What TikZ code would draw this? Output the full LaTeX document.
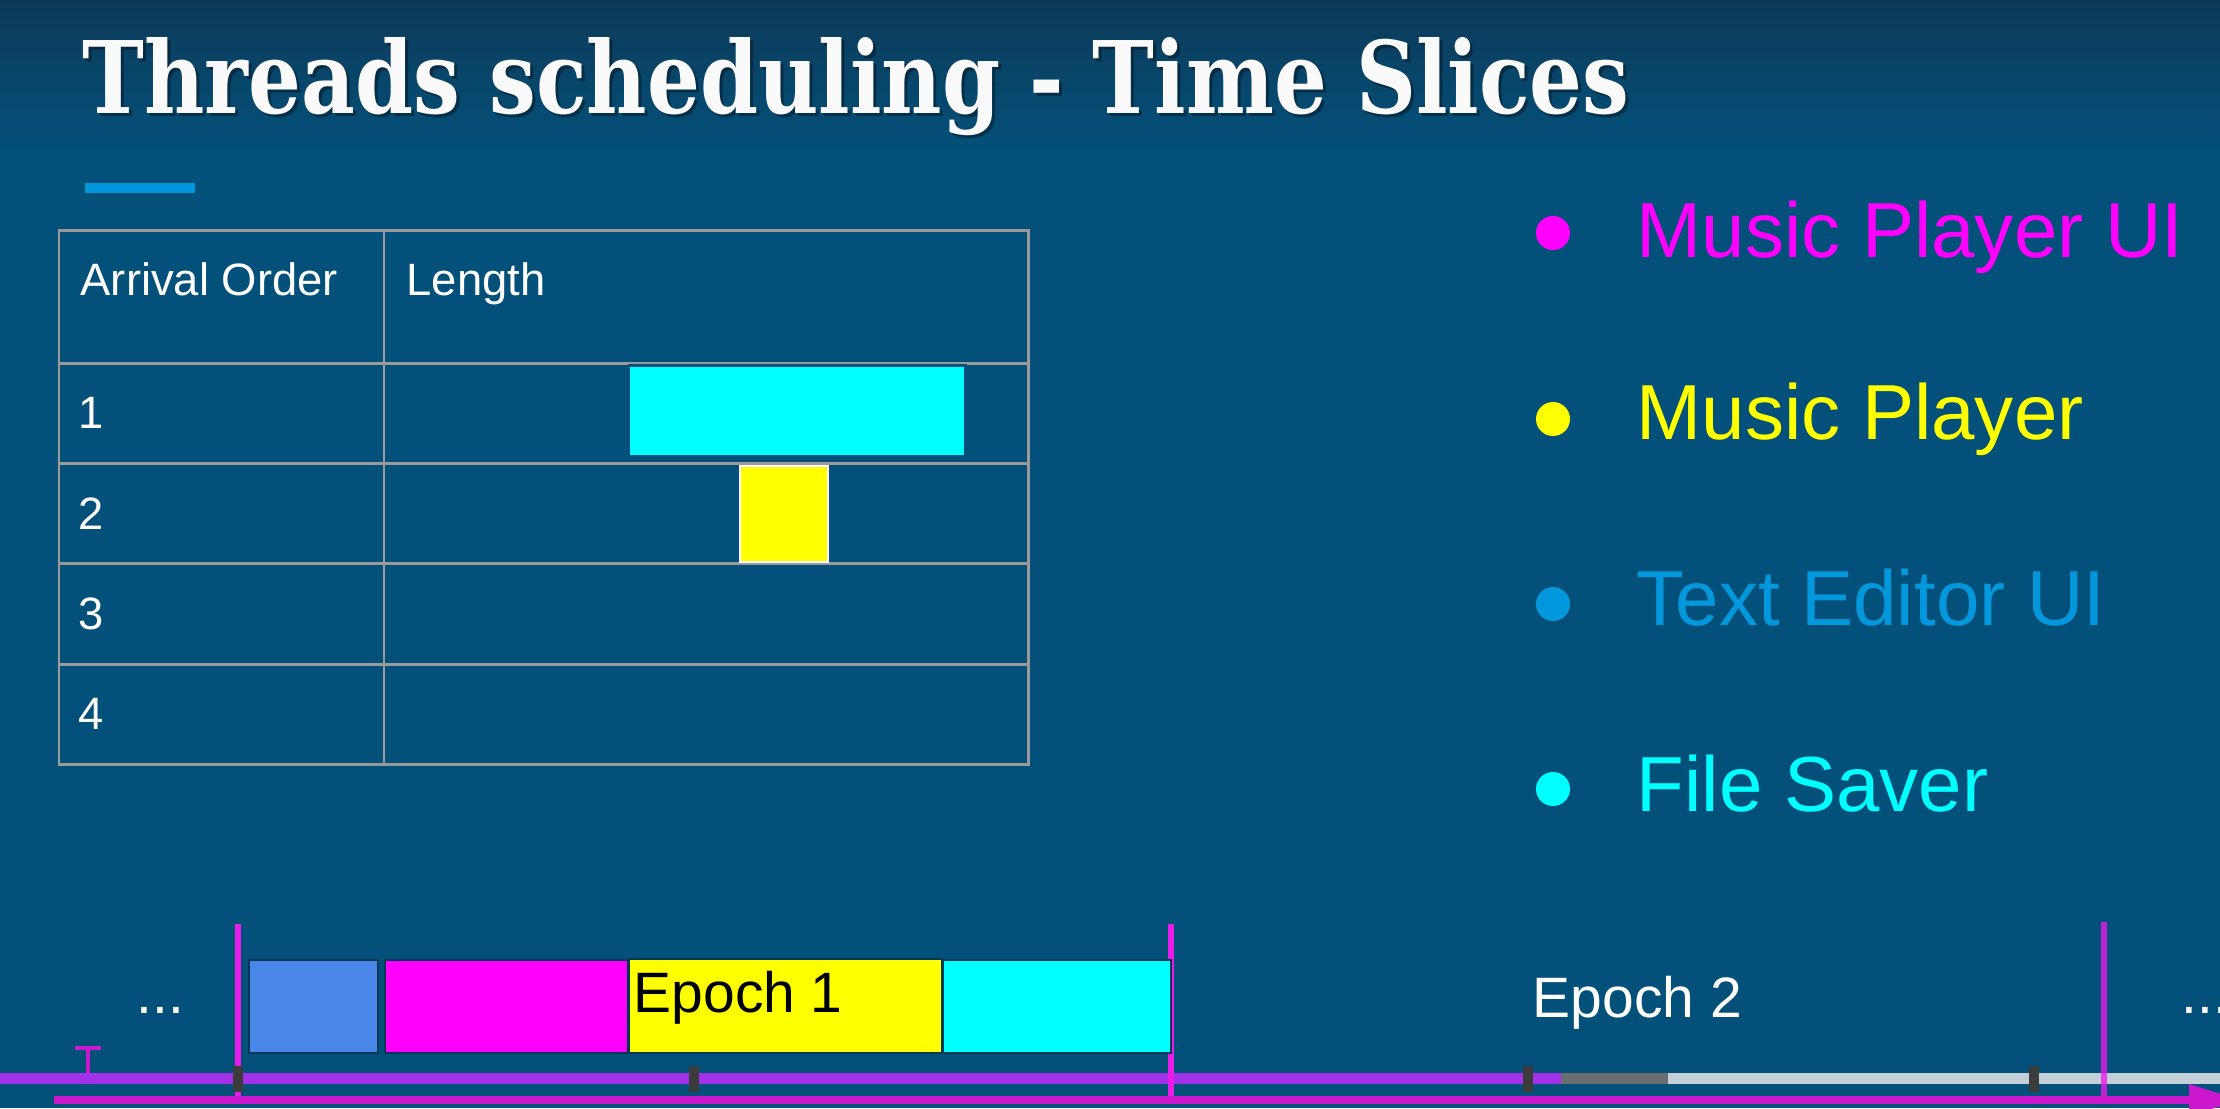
\documentclass[tikz,border=0pt]{standalone}
\usepackage{fontspec}
\setmainfont{Liberation Sans}
\newfontfamily\titlefont{DejaVu Serif}
\usetikzlibrary{shadings}

\definecolor{bg}{HTML}{03507A}
\definecolor{bgtop}{HTML}{0D3A58}
\definecolor{accent}{HTML}{0096DB}
\definecolor{mag}{HTML}{FF00FF}
\definecolor{ylw}{HTML}{FFFF00}
\definecolor{cyn}{HTML}{00FFFF}
\definecolor{tblue}{HTML}{0398DD}
\definecolor{slotblue}{HTML}{4A86E8}
\definecolor{gridc}{HTML}{9A9A9A}
\definecolor{axisc}{HTML}{CC18CC}
\definecolor{barc}{HTML}{A232E8}
\definecolor{tickc}{HTML}{3C3C3C}
\definecolor{donec}{HTML}{6B6E70}
\definecolor{todoc}{HTML}{C3D0D8}
\definecolor{mline}{HTML}{E81CE8}

% font size given in pixels (1px = 0.01cm = 0.2845pt)
\newcommand\pxsize[1]{\fontsize{#1}{#1}\selectfont}

\tikzset{
  lbl/.style={inner sep=0pt, anchor=base west, text=white},
  celltxt/.style={lbl, font=\pxsize{12.9pt}},
  itemtxt/.style={lbl, font=\pxsize{22.2pt}},
  epochtxt/.style={lbl, font=\pxsize{16.2pt}},
  gridline/.style={draw=gridc, line width=0.85pt},
  slot/.style={draw=bg!70!black, line width=0.3pt},
  sep/.style={draw=mline, line width=1.5pt},
  tickmark/.style={fill=tickc},
}

\begin{document}
\begin{tikzpicture}[x=0.01cm, y=-0.01cm]
\useasboundingbox (0,0) rectangle (2220,1108);
\clip (0,0) rectangle (2220,1108);

% background
\fill[bg] (0,0) rectangle (2220,1108);
\shade[top color=bgtop, bottom color=bg] (0,0) rectangle (2220,150);

% title with a soft drop shadow
\node[inner sep=0pt, anchor=base west, text=black, opacity=0.35] (titleshadow) at (85,116)
  {\resizebox{15.46cm}{0.76cm}{\titlefont\bfseries Threads scheduling - Time Slices}};
\node[inner sep=0pt, anchor=base west, text=white!96!gray] (title) at (82,113)
  {\resizebox{15.46cm}{0.76cm}{\titlefont\bfseries Threads scheduling - Time Slices}};
\fill[accent] (85,183) rectangle (195,193);

% table grid
\draw[gridline] (59,230) rectangle (1028,764);
\draw[gridline] (384,230) -- (384,764);
\foreach \r in {363,463,563,664}
  \draw[gridline] (59,\r) -- (1028,\r);

\node[celltxt] (hdrorder) at (80,295) {Arrival Order};
\node[celltxt] (hdrlen) at (406,295) {Length};
\node[celltxt] (row1) at (78,428) {1};
\node[celltxt] (row2) at (78,529) {2};
\node[celltxt] (row3) at (78,629) {3};
\node[celltxt] (row4) at (78,729) {4};

% lengths
\filldraw[fill=cyn, draw=bg, line width=0.85pt] (629,365) rectangle (965,456);
\filldraw[fill=ylw, draw=white, line width=0.6pt] (740,466) rectangle (828,562);

% legend
\fill[mag]   (1553,233) circle (17);
\fill[ylw]   (1553,419) circle (17);
\fill[tblue] (1553,604) circle (17);
\fill[cyn]   (1553,789) circle (17);
\node[itemtxt, text=mag]   (mpui) at (1636,257) {Music Player UI};
\node[itemtxt, text=ylw]   (mp)   at (1636,439) {Music Player};
\node[itemtxt, text=tblue] (teui) at (1636,625) {Text Editor UI};
\node[itemtxt, text=cyn]   (fs)   at (1636,811) {File Saver};

% timeline: progress bar
\fill[barc]  (0,1073) rectangle (1561,1084);
\fill[donec] (1561,1073) rectangle (1668,1084);
\fill[todoc] (1668,1073) rectangle (2220,1084);

% epoch separators
\draw[sep] (238,924) -- (238,1100);
\draw[sep] (1171,924) -- (1171,1100);
\draw[sep, draw opacity=0.8] (2104,922) -- (2104,1097);

% ticks on the bar
\foreach \t in {238,694,1528,2034}
  \fill[tickmark] (\t-5,1066) rectangle (\t+5,1092);

% start marker
\draw[draw=axisc, line width=0.9pt] (88,1048) -- (88,1073);
\draw[draw=axisc, line width=1.4pt] (75,1048) -- (101,1048);

% time axis
\draw[draw=axisc, line width=2.2pt] (54,1100) -- (2195,1100);
\fill[axisc] (2189,1084) -- (2240,1100) -- (2189,1116) -- cycle;

% epoch 1 time slices
\filldraw[slot, fill=slotblue] (249,960) rectangle (378,1053);
\filldraw[slot, fill=mag]      (385,960) rectangle (628,1053);
\filldraw[slot, fill=ylw]      (629,959) rectangle (942,1053);
\filldraw[slot, fill=cyn]      (943,960) rectangle (1171,1053);

\node[epochtxt, text=black] (ep1) at (633,1012) {Epoch 1};
\node[epochtxt] (ep2) at (1532,1017) {Epoch 2};
\node[epochtxt] (dotsl) at (136,1013) {...};
\node[epochtxt] (dotsr) at (2181,1013) {...};
\end{tikzpicture}
\end{document}
